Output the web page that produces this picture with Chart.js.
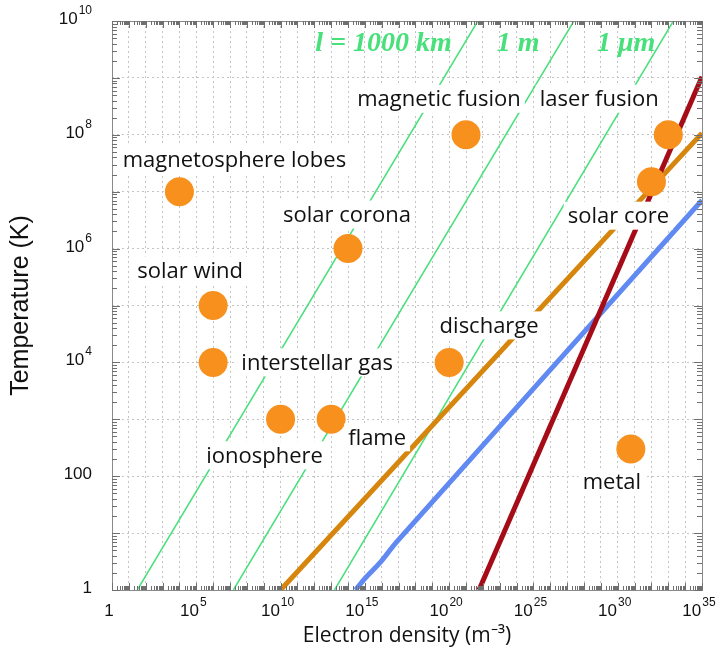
<!DOCTYPE html>
<html>
<head>
<meta charset="utf-8">
<script src="https://cdn.jsdelivr.net/npm/chart.js@4.4.1/dist/chart.umd.min.js"></script>
<style>
  html, body { margin: 0; padding: 0; background: #ffffff; }
  #wrap { width: 721px; height: 665px; }
</style>
</head>
<body>
<div id="wrap"><canvas id="c" width="721" height="665"></canvas></div>
<script>
// Plasma regimes: electron density (m^-3) and temperature (K)
const plasmaNames = ['magnetosphere lobes', 'solar wind', 'interstellar gas', 'ionosphere', 'flame',
  'solar corona', 'discharge', 'magnetic fusion', 'laser fusion', 'solar core', 'metal'];
const plasmaDensity = [1e4, 1e6, 1e6, 1e10, 1e13, 1e14, 1e20, 1e21, 1e33, 1e32, 6e30];
const plasmaTemperature = [1e7, 1e5, 1e4, 1e3, 1e3, 1e6, 1e4, 1e8, 1e8, 1.5e7, 300];

// Lines of constant mean free path (endpoints at T = 1 K and T = 1e10 K)
const mfpNames = ['l = 1000 km', '1 m', '1 \u03bcm'];
const mfpDensity = [[10 ** 1.5, 10 ** 21.7], [10 ** 7.2, 10 ** 27.4], [10 ** 13.2, 10 ** 33.3]];
const mfpTemperature = [1, 1e10];

// Regime boundaries
const couplingDensity = [1e10, 1e35];
const couplingTemperature = [1, 10 ** 8.03];
const quantumDensity = [10 ** 14.45, 10 ** 15.0, 10 ** 15.9, 10 ** 16.9, 1e35];
const quantumTemperature = [1, 10 ** 0.2, 10 ** 0.48, 10 ** 0.85, 10 ** 6.85];
const fermiDensity = [10 ** 21.77, 1e35];
const fermiTemperature = [1, 10 ** 9.02];

// Axis tick labels: [base, exponent]
const xTickLabels = [['1', ''], ['10', '5'], ['10', '10'], ['10', '15'], ['10', '20'], ['10', '25'], ['10', '30'], ['10', '35']];
const xTickValues = [1, 1e5, 1e10, 1e15, 1e20, 1e25, 1e30, 1e35];
const yTickLabels = [['1', ''], ['100', ''], ['10', '4'], ['10', '6'], ['10', '8'], ['10', '10']];
const yTickValues = [1, 100, 1e4, 1e6, 1e8, 1e10];

// Label placement (pixel offsets from each marker) and mean-free-path label anchors
const labelOffsets = [[55, -32], [-23, -35], [104, 0], [-16, 36], [46, 18], [-1, -34],
  [40, -37], [-27, -36], [-69, -36], [-33, 34], [-19, 33]];
const mfpLabelAnchor = [[10 ** 16.1, 10 ** 9.6], [10 ** 24.1, 10 ** 9.6], [10 ** 30.5, 10 ** 9.6]];

const pairs = (xs, ys) => xs.map((x, i) => ({ x, y: ys[i] }));

const datasets = [];
mfpDensity.forEach((d) => {
  datasets.push({
    type: 'line', data: pairs(d, mfpTemperature), borderColor: '#47e07a', borderWidth: 1.5,
    pointRadius: 0, fill: false, tension: 0, order: 5
  });
});
datasets.push({ type: 'line', data: pairs(couplingDensity, couplingTemperature), borderColor: '#d6860c',
  borderWidth: 5, pointRadius: 0, fill: false, order: 4 });
datasets.push({ type: 'line', data: pairs(quantumDensity, quantumTemperature), borderColor: '#6189f2',
  borderWidth: 5, pointRadius: 0, fill: false, tension: 0.3, order: 4 });
datasets.push({ type: 'line', data: pairs(fermiDensity, fermiTemperature), borderColor: '#a50c17',
  borderWidth: 5, pointRadius: 0, fill: false, order: 3 });
datasets.push({ type: 'scatter', data: pairs(plasmaDensity, plasmaTemperature), backgroundColor: '#f7901d',
  borderWidth: 0, pointRadius: 14.5, pointHoverRadius: 14.5, order: 1 });

function decadeTicks(scale, lo, hi) {
  const t = [];
  for (let k = lo; k <= hi; k++) t.push({ value: 10 ** k });
  scale.ticks = t;
}

const decor = {
  id: 'decor',
  afterDatasetsDraw(chart) {
    const ctx = chart.ctx;
    const xs = chart.scales.x, ys = chart.scales.y;
    const a = chart.chartArea;

    // region labels on white boxes
    ctx.save();
    ctx.font = '22px "Open Sans"';
    ctx.textAlign = 'center';
    ctx.textBaseline = 'middle';
    plasmaNames.forEach((name, i) => {
      const px = xs.getPixelForValue(plasmaDensity[i]) + labelOffsets[i][0];
      const py = ys.getPixelForValue(plasmaTemperature[i]) + labelOffsets[i][1];
      const w = ctx.measureText(name).width;
      ctx.fillStyle = '#ffffff';
      ctx.fillRect(px - w / 2 - 4, py - 14, w + 8, 28);
      ctx.fillStyle = '#111111';
      ctx.fillText(name, px, py + 1);
    });

    // mean free path labels
    ctx.font = 'italic bold 28px "Liberation Serif"';
    ctx.fillStyle = '#47e07a';
    mfpNames.forEach((name, i) => {
      ctx.fillText(name, xs.getPixelForValue(mfpLabelAnchor[i][0]), ys.getPixelForValue(mfpLabelAnchor[i][1]));
    });
    ctx.restore();

    // frame and inward ticks on all four sides
    ctx.save();
    ctx.strokeStyle = '#8a8a8a';
    ctx.lineWidth = 1;
    ctx.strokeRect(a.left + 0.5, a.top + 0.5, a.right - a.left, a.bottom - a.top);
    ctx.strokeStyle = '#6f6f6f';
    ctx.beginPath();
    for (let k = 0; k <= 35; k++) {
      for (let m = 1; m <= 9; m++) {
        if (k === 35 && m > 1) break;
        const v = m * 10 ** k;
        const px = Math.round(xs.getPixelForValue(v)) + 0.5;
        const len = m === 1 ? 7 : 4;
        ctx.moveTo(px, a.bottom); ctx.lineTo(px, a.bottom - len);
        ctx.moveTo(px, a.top); ctx.lineTo(px, a.top + len);
      }
    }
    for (let k = 0; k <= 10; k++) {
      for (let m = 1; m <= 9; m++) {
        if (k === 10 && m > 1) break;
        const v = m * 10 ** k;
        const py = Math.round(ys.getPixelForValue(v)) + 0.5;
        const len = m === 1 ? 8 : 5;
        ctx.moveTo(a.left, py); ctx.lineTo(a.left + len, py);
        ctx.moveTo(a.right, py); ctx.lineTo(a.right - len, py);
      }
    }
    ctx.stroke();
    ctx.restore();

    // tick labels with superscript exponents
    ctx.save();
    ctx.fillStyle = '#111111';
    ctx.textBaseline = 'alphabetic';
    const baseFont = '17px "Liberation Sans"';
    const expFont = '12px "Liberation Sans"';
    xTickValues.forEach((v, i) => {
      const [b, e] = xTickLabels[i];
      ctx.font = baseFont; const wb = ctx.measureText(b).width;
      ctx.font = expFont; const we = e ? ctx.measureText(e).width + 1 : 0;
      const cx = xs.getPixelForValue(v) - 3;
      const left = cx - (wb + we) / 2;
      ctx.textAlign = 'left';
      ctx.font = baseFont; ctx.fillText(b, left, 616);
      if (e) { ctx.font = expFont; ctx.fillText(e, left + wb + 1, 606); }
    });
    yTickValues.forEach((v, i) => {
      const [b, e] = yTickLabels[i];
      const py = ys.getPixelForValue(v);
      ctx.font = expFont; const we = e ? ctx.measureText(e).width + 1 : 0;
      ctx.textAlign = 'right';
      ctx.font = baseFont; ctx.fillText(b, 92 - we, py + 3);
      if (e) { ctx.font = expFont; ctx.fillText(e, 92, py - 7); }
    });
    ctx.restore();
  }
};

new Chart(document.getElementById('c'), {
  data: { datasets },
  plugins: [decor],
  options: {
    responsive: false,
    animation: false,
    devicePixelRatio: 1,
    layout: { padding: { top: 21, right: 19, left: 0, bottom: 0 } },
    plugins: { legend: { display: false }, tooltip: { enabled: false } },
    scales: {
      x: {
        type: 'logarithmic', min: 1, max: 1e35,
        afterBuildTicks: (s) => decadeTicks(s, 0, 35),
        afterFit: (s) => { s.height = 75; },
        ticks: { display: false },
        border: { display: false, dash: [2, 3] },
        grid: { color: '#c4c4c4', lineWidth: 1, drawTicks: false },
        title: { display: true, text: 'Electron density (m\u207b\u00b3)', color: '#111111',
          font: { family: '"Open Sans"', size: 21 }, padding: { top: 0, bottom: 16 } }
      },
      y: {
        type: 'logarithmic', min: 1, max: 1e10,
        afterBuildTicks: (s) => decadeTicks(s, 0, 10),
        afterFit: (s) => { s.width = 112; },
        ticks: { display: false },
        border: { display: false, dash: [2, 3] },
        grid: { color: '#c4c4c4', lineWidth: 1, drawTicks: false },
        title: { display: true, text: 'Temperature (K)', color: '#111111',
          font: { family: '"Liberation Sans"', size: 25 }, padding: { top: 6, bottom: 0 } }
      }
    }
  }
});
</script>
</body>
</html>
